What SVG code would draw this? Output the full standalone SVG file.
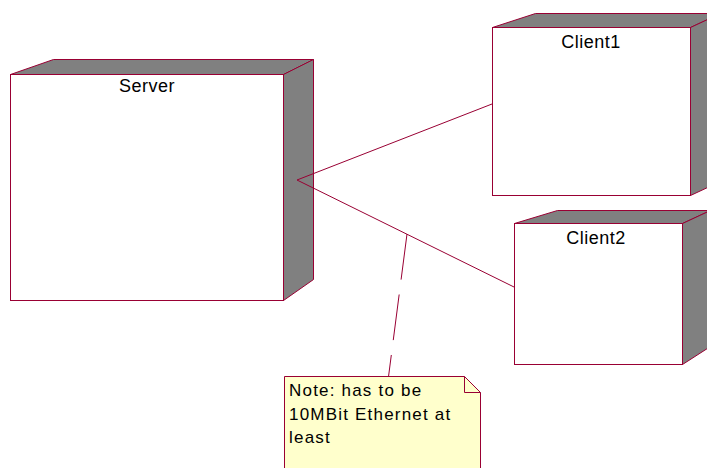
<svg xmlns="http://www.w3.org/2000/svg" width="707" height="468" viewBox="0 0 707 468">
<style>
.ln{stroke:#990033;stroke-width:1;fill:none}
.front{fill:#ffffff;stroke:#990033;stroke-width:1}
.shade{fill:#808080;stroke:#990033;stroke-width:1;stroke-linejoin:miter}
.lbl{font-family:"Liberation Sans",Arial,sans-serif;font-size:18px;fill:#000;text-anchor:middle;letter-spacing:0.5px}
.note{fill:#ffffcc;stroke:#990033;stroke-width:1}
.ntxt{font-family:"Liberation Sans",Arial,sans-serif;font-size:17px;fill:#000;letter-spacing:1.2px}
</style>
<rect width="707" height="468" fill="#ffffff"/>
<g id="server">
<polygon class="shade" points="10.5,74.5 53.5,59.5 313.5,59.5 283.5,74.5"/>
<polygon class="shade" points="283.5,74.5 313.5,59.5 313.5,279.5 283.5,300.5"/>
<rect class="front" x="10.5" y="74.5" width="273" height="226"/>
<text class="lbl" x="147" y="92">Server</text>
</g>
<g id="client1">
<polygon class="shade" points="492.5,27.5 535.5,13.5 720.5,13.5 690.5,27.5"/>
<polygon class="shade" points="690.5,27.5 720.5,13.5 720.5,181.5 690.5,195.5"/>
<rect class="front" x="492.5" y="27.5" width="198" height="168"/>
<text class="lbl" x="591" y="48">Client1</text>
</g>
<g id="client2">
<polygon class="shade" points="514.5,223.5 557.5,210.5 710.5,210.5 682.5,223.5"/>
<polygon class="shade" points="682.5,223.5 710.5,210.5 710.5,346.5 682.5,364.5"/>
<rect class="front" x="514.5" y="223.5" width="168" height="141"/>
<text class="lbl" x="596" y="244">Client2</text>
</g>
<g id="note">
<polygon class="note" points="284.5,376.5 464.5,376.5 480.5,392.5 480.5,470 284.5,470"/>
<polyline class="ln" points="464.5,376.5 464.5,392.5 480.5,392.5"/>
<text class="ntxt" x="289" y="396">Note: has to be</text>
<text class="ntxt" x="289" y="419.5">10MBit Ethernet at</text>
<text class="ntxt" x="289" y="443">least</text>
</g>
<g id="connectors">
<polyline class="ln" points="492,104 297,180 514,287"/>
<line class="ln" x1="407" y1="234" x2="388.6" y2="376" stroke-dasharray="46 15"/>
</g>
</svg>
